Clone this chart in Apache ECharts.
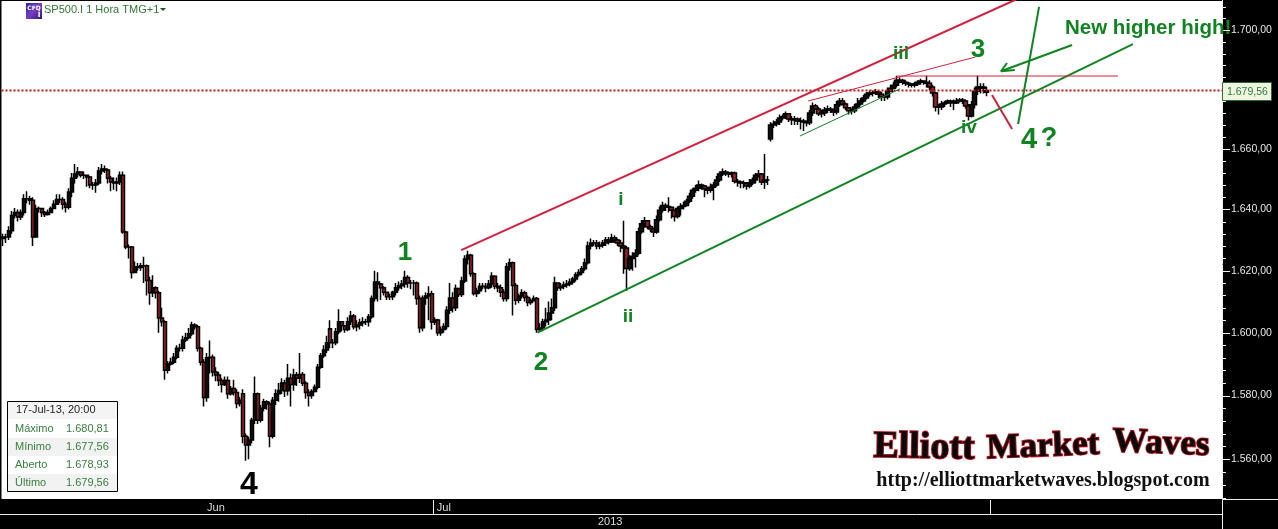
<!DOCTYPE html>
<html>
<head>
<meta charset="utf-8">
<title>SP500.I 1 Hora</title>
<style>
html,body{margin:0;padding:0;background:#000;}
#chart{width:1278px;height:529px;}
</style>
<script src="https://cdn.jsdelivr.net/npm/echarts@6/dist/echarts.min.js"></script>
</head>
<body>
<div id="chart"></div>
<script>
// one line = 10 hourly bars
const opens=[
1630.5,1631,1631,1633,1638,1639,1637.5,1639,1643.5,1643.5,
1643,1631,1640.3,1640.3,1639,1638.3,1639,1640.3,1641.7,1643.3,
1643.3,1641.7,1640.7,1645.7,1650.3,1651.7,1652.3,1651.3,1651.3,1650.7,
1648,1648,1648.7,1652.7,1653.3,1653,1650.3,1649,1648.7,1649,
1651.3,1632.6,1627.7,1627.7,1619.4,1621.3,1621,1621.6,1621.6,1616.8,
1612.9,1614.5,1612.9,1604.7,1603.5,1588,1590,1590.6,1592.2,1595,
1595,1597.7,1598.4,1599.7,1602.5,1601.9,1595,1590.6,1579.4,1592,
1592.2,1587.5,1586.5,1584.8,1583.5,1584.8,1580.6,1582.2,1581,1577.5,
1580.6,1567.2,1564.4,1566,1572.2,1580.6,1572.2,1576,1578,1577.3,
1567.2,1578.5,1580.6,1581.6,1584,1581.5,1585.5,1583.5,1586.5,1585.5,
1586.7,1583.9,1581,1580,1581.3,1582.6,1589,1592.6,1594.5,1601.3,
1596.8,1596.8,1600.3,1603.5,1602.2,1601,1603.5,1605.4,1601.9,1602.5,
1603.2,1603.5,1603.5,1605.1,1611,1616.3,1615.7,1614.5,1613,1611.6,
1611.6,1613,1614.5,1615.1,1615.7,1617.8,1616,1616,1616,1611,
1601.6,1611.2,1611.8,1612.5,1603.4,1604.1,1600,1601,1602,1607.2,
1611.2,1608,1614.2,1612.3,1616.7,1623.8,1625,1619,1612.6,1613.5,
1615,1615,1614.5,1615.7,1618.2,1615,1614.5,1613,1611,1621.3,
1622.6,1615.2,1610.4,1611.8,1612.9,1611.3,1609.7,1610.3,1611,1601,
1601.5,1603.5,1604.1,1606.3,1608,1616,1614.5,1615,1615.4,1615.7,
1616.3,1617.3,1618.7,1619.4,1620.6,1622.6,1628,1629,1629,1628,
1628.3,1629,1630,1629.3,1630.7,1630,1629,1628,1627.4,1620.7,
1624,1624.7,1625.7,1632.7,1635.3,1636.3,1634.3,1633.6,1632.6,1636.6,
1639.7,1641.3,1641,1640.7,1639.7,1637.7,1640.3,1641,1641.3,1642.7,
1644.3,1646.3,1647,1648,1647.7,1646.7,1646.3,1647.3,1648,1649.7,
1651.7,1652.3,1652,1651.7,1652,1649.3,1649,1648.7,1648.7,1647.7,
1648.7,1649.7,1651.3,1651.7,1649,1649.7,1663.3,1668,1668.3,1669,
1670.3,1670.7,1671.7,1670,1669.7,1670,1669.3,1669.3,1669,1668.7,
1672,1674.3,1673.3,1671.7,1672,1673,1673.3,1673,1672.3,1674.7,
1676,1675,1673.7,1672.7,1672.7,1674,1675,1676,1677,1678.3,
1678.7,1678.7,1679,1678.3,1677.3,1677.3,1679.3,1680.3,1681.3,1683,
1683,1682.3,1682,1681.7,1681.3,1681.7,1682.3,1682.7,1682.3,1682,
1680.7,1678.7,1674,1674,1675,1675.3,1676,1675.7,1675.3,1676,
1676.3,1676,1674.3,1671,1674.7,1679.3,1680.7,1680.3,1678.93];
const closes=[
1631,1631,1633,1638,1639,1637.5,1639,1643.5,1643.5,1643,
1631,1640.3,1640.3,1639,1638.3,1639,1640.3,1641.7,1643.3,1643.3,
1641.7,1640.7,1645.7,1650.3,1651.7,1652.3,1651.3,1651.3,1650.7,1648,
1648,1648.7,1652.7,1653.3,1653,1650.3,1649,1648.7,1649,1651.3,
1632.6,1627.7,1627.7,1619.4,1621.3,1621,1621.6,1621.6,1616.8,1612.9,
1614.5,1612.9,1604.7,1603.5,1588,1590,1590.6,1592.2,1595,1595,
1597.7,1598.4,1599.7,1602.5,1601.9,1595,1590.6,1579.4,1592,1592.2,
1587.5,1586.5,1584.8,1583.5,1584.8,1580.6,1582.2,1581,1577.5,1578.5,
1567.2,1564.4,1566,1572.2,1580.6,1572.2,1576,1578,1577.3,1567.2,
1578.5,1580.6,1581.6,1584,1581.5,1585.5,1583.5,1586.5,1585.5,1586.7,
1583.9,1581,1580,1581.3,1582.6,1589,1592.6,1594.5,1596.8,1596.8,
1596.8,1600.3,1603.5,1602.2,1601,1603.5,1605.4,1601.9,1602.5,1603.2,
1603.5,1603.5,1605.1,1611,1616.3,1615.7,1614.5,1613,1611.6,1611.6,
1613,1614.5,1615.1,1615.7,1617.8,1616,1616,1616,1611,1601.6,
1611.2,1611.8,1612.5,1603.4,1604.1,1600,1601,1602,1607.2,1611.2,
1608,1614.2,1612.3,1616.7,1623.8,1625,1619,1612.6,1613.5,1615,
1615,1614.5,1615.7,1618.2,1615,1614.5,1613,1611,1621.3,1622.6,
1615.2,1610.4,1611.8,1612.9,1611.3,1609.7,1610.3,1611,1601,1601.5,
1603.5,1604.1,1606.3,1608,1616,1614.5,1615,1615.4,1615.7,1616.3,
1617.3,1618.7,1619.4,1620.6,1622.6,1628,1629,1629,1628,1628.3,
1629,1630,1629.3,1630.7,1630,1629,1628,1627.4,1620.7,1624,
1624.7,1625.7,1632.7,1635.3,1636.3,1634.3,1633.6,1632.6,1636.6,1639.7,
1641.3,1641,1640.7,1639.7,1637.7,1640.3,1641,1641.3,1642.7,1644.3,
1646.3,1647,1648,1647.7,1646.7,1646.3,1647.3,1648,1649.7,1651.7,
1652.3,1652,1651.7,1652,1649.3,1649,1648.7,1648.7,1647.7,1648.7,
1649.7,1651.3,1651.7,1649,1649.7,1649.7,1668,1668.3,1669,1670.3,
1670.7,1671.7,1670,1669.7,1670,1669.3,1669.3,1669,1668.7,1672,
1674.3,1673.3,1671.7,1672,1673,1673.3,1673,1672.3,1674.7,1676,
1675,1673.7,1672.7,1672.7,1674,1675,1676,1677,1678.3,1678.7,
1678.7,1679,1678.3,1677.3,1677.3,1679.3,1680.3,1681.3,1683,1683,
1682.3,1682,1681.7,1681.3,1681.7,1682.3,1682.7,1682.3,1682,1680.7,
1678.7,1674,1674,1675,1675.3,1676,1675.7,1675.3,1676,1676.3,
1676,1674.3,1671,1674.7,1679.3,1680.7,1680.3,1680.7,1679.56];
const lows=[
1628,1629,1630,1632,1637,1636,1636.5,1638,1642,1641.5,
1628,1638,1639,1637.5,1637.5,1638,1639.5,1640.5,1641.5,1642,
1640,1639,1640,1644,1648.5,1650.5,1650.5,1650,1647.5,1647,
1646.5,1645.5,1648,1651.5,1652,1648.5,1646,1646.5,1646,1648,
1632,1627,1624,1617.5,1620,1620,1620,1616,1612,1609,
1611.5,1611,1600,1602,1585,1587,1589.5,1590,1591.5,1594,
1594,1597,1598,1599,1601,1594,1589.5,1576.5,1578,1587,
1586,1584.5,1583,1581,1583,1579,1580,1580,1576,1576.5,
1565,1559.5,1560,1565,1571,1571,1571.5,1575,1575.5,1563.7,
1566.5,1577,1578,1580.5,1579.5,1580,1576.5,1581.5,1583,1584,
1583,1579,1576.5,1579,1581,1582,1588.5,1592,1593.5,1595,
1595,1596,1599.5,1600.5,1600,1600.5,1602.5,1601,1600.5,1601,
1602,1602.5,1602,1604.5,1610,1610,1610.5,1612,1610.5,1610.5,
1610.5,1612,1613.5,1614,1614.5,1614.5,1614,1612,1609,1600,
1600.5,1609,1604,1601,1602.5,1599,1599,1600,1601,1606,
1606.5,1607,1611.5,1611.5,1616,1622,1618,1612,1611.5,1612.5,
1614,1613,1614,1614.5,1614,1613,1611.5,1610,1610,1620,
1605.5,1609,1609.5,1611,1610,1608.5,1609,1610,1600,1600.2,
1600.5,1602,1602.5,1604,1607,1613.5,1613.5,1614,1614.5,1615,
1615.5,1616.5,1618,1618.5,1620,1622,1627,1628,1627,1627,
1627.5,1628,1628.5,1629,1629,1628,1626,1619,1613.5,1620,
1620,1621,1625,1632,1634,1633.5,1632.5,1631,1632,1636,
1639,1639.5,1639,1637,1636,1637,1638,1640,1641,1642,
1643.5,1645.5,1646,1646.5,1644,1645,1645.5,1643,1647.5,1649,
1651,1651,1650.5,1650.5,1648.5,1647.5,1647,1647,1646.5,1647,
1648,1648.5,1650.5,1648,1646.7,1648,1662.5,1667,1667.5,1668,
1669.5,1670,1669,1668,1668,1668,1666.5,1666,1667.5,1668,
1671,1673,1671,1670.5,1671,1672,1672,1671,1671.5,1674,
1674.5,1673,1671.5,1671.5,1672,1673.5,1674.5,1675.5,1676.5,1677.5,
1677.5,1678,1677,1676,1676,1676.5,1679,1680,1680.5,1682,
1681.5,1681,1680.5,1680.5,1680.5,1681,1681.5,1681.5,1680.5,1679.5,
1677.5,1672.5,1671.5,1673,1674,1675,1674,1673,1675,1675.5,
1675,1673.5,1669.5,1670.5,1673.5,1678,1678.5,1678.5,1677.56];
const highs=[
1632,1632,1634.5,1639.5,1640.5,1640,1640,1645,1646,1644.5,
1644,1641.5,1641,1640,1639.5,1640,1641,1643,1645,1645,
1644,1642.5,1647,1652,1655,1654,1652.5,1652.5,1651.5,1651,
1649,1650,1654,1655,1654.5,1653.5,1651,1650.5,1650.5,1652.5,
1652.5,1633,1628.5,1628,1623,1622.5,1622.5,1624.5,1622,1618,
1618.5,1615,1613.5,1608,1604,1591,1592,1593.5,1596,1596.5,
1599,1600,1601.5,1603.5,1603,1602.5,1595.5,1591.5,1593.5,1597.5,
1593,1589,1587.5,1585.5,1586,1586,1583,1585,1582,1579.5,
1582,1568,1567,1573,1586,1581,1577,1579,1578.5,1578,
1579.5,1582,1584,1585.5,1585,1590,1587,1588.5,1587.5,1593.5,
1587.5,1584.5,1582,1582,1583.5,1590,1593.5,1596,1599,1604,
1598,1601.5,1607.5,1603.5,1602.5,1605,1607,1606,1604,1604.5,
1605,1604.5,1606,1612,1620,1619.5,1616,1615,1613,1612.5,
1613.5,1616,1616.5,1617,1620,1618.5,1617,1617,1616.5,1612,
1612,1613,1615,1613.5,1605,1604.5,1602,1603,1608.5,1616,
1613,1615.5,1614.5,1618,1625,1626.5,1625.5,1619.5,1614.5,1616,
1616,1616,1617,1619.5,1618.5,1616,1615.5,1614,1622.5,1624,
1623,1616,1612.5,1614,1613.5,1612,1611,1612,1611.5,1603,
1604.5,1608,1610,1611,1618,1616,1616,1616.5,1617,1617.5,
1618,1619.5,1620.5,1621.5,1624,1629.5,1630.5,1630,1630,1629.5,
1630,1631,1631,1632,1631.5,1630.5,1630,1636.3,1628,1625,
1626,1627,1634,1636.5,1637.5,1636.5,1635,1634,1638,1641,
1642.5,1642,1644,1641,1640,1641,1642,1642.5,1643.5,1645.5,
1647,1648,1649.5,1648.5,1648,1647.5,1648.5,1649,1651,1652.5,
1653.5,1653,1652.5,1652.5,1652.5,1650,1649.5,1649.5,1649,1650,
1650.5,1652,1653,1652,1658.3,1651,1669,1669.5,1670,1671.5,
1671.5,1672.5,1672,1671,1671,1670.5,1670.5,1670,1669.5,1673,
1675.5,1675,1674,1673,1674,1674.5,1674,1673.5,1676,1677,
1677,1675.5,1674,1673.5,1675,1677,1677,1678,1679,1679.5,
1679.5,1680,1679.5,1679,1678,1680.5,1681.5,1682.5,1684.5,1684,
1683.5,1683,1682.5,1682,1682.5,1683,1683.5,1683,1684.5,1683,
1681.5,1679,1675,1676,1676,1676.5,1676.5,1676.5,1677,1677,
1677,1676.5,1675,1676,1680.5,1684.5,1682,1682,1680.81];

const monthLabels={71:'Jun',147:'Jul'};
const priceLabels=[1560,1580,1600,1620,1640,1660,1700];
const priceTicks=[1560,1580,1600,1620,1640,1660,1680,1700];
const minorTicks=[1548,1552,1556,1564,1568,1572,1576,1584,1588,1592,1596,1604,1608,1612,1616,1624,1628,1632,1636,1644,1648,1652,1656,1664,1668,1672,1676,1684,1688,1692,1696,1704,1708];
const lastPrice=1679.56;

// drawn trend lines: [bar number, price]
const redChannel=[[152.8,1626.7],[338,1710.5]];
const greenChannel=[[178.2,1600],[376.8,1695.2]];
const thinGreen=[[265.8,1664.3],[299.2,1680.1]];
const thinRed=[[268.5,1676],[324.2,1690.8]];
const redFlat=[[298.2,1684.4],[371.8,1684.4]];
const redDrop=[[329.8,1678],[336.5,1666.6]];
const greenSteep=[[345.5,1707.9],[338.5,1668.3]];
const arrowShaft=[[356.5,1694.9],[332.8,1686]];
const arrowHead=[[334.8,1688.8],[332.8,1686],[337.4,1686.4]];
const lastPriceLine=[[-0.5,lastPrice],[406.5,lastPrice]];

const infoRows=[['Máximo','1.680,81'],['Mínimo','1.677,56'],['Aberto','1.678,93'],['Último','1.679,56']];

const RED='#d3203f';
const GREEN='#0f8420';
const categories=Array.from({length:407},(_,i)=>monthLabels[i]||'');
const candles=closes.map((c,i)=>[opens[i],c,lows[i],highs[i]]);

function trend(data,color,width,type){
    return {type:'line',xAxisIndex:1,yAxisIndex:0,data:data,symbol:'none',silent:true,z:5,
        lineStyle:{color:color,width:width,type:type||'solid'}};
}
function txt(x,y,text,font,fill,extra){
    return {type:'text',x:x,y:y,z:50,rotation:extra&&extra.rotation||0,
        style:{text:text,font:font,fill:fill,textAlign:'center',textVerticalAlign:'middle',...(extra&&extra.style)}};
}
function left(x,y,text,font,fill){
    return {type:'text',x:x,y:y,z:50,style:{text:text,font:font,fill:fill,textAlign:'left',textVerticalAlign:'middle'}};
}
function rect(x,y,w,h,fill,stroke){
    return {type:'rect',z:49,shape:{x:x,y:y,width:w,height:h},style:{fill:fill,stroke:stroke||null,lineWidth:1}};
}
function whiteLine(x1,y1,x2,y2){
    return {type:'line',z:48,shape:{x1:x1,y1:y1,x2:x2,y2:y2},style:{stroke:'#eee',lineWidth:1}};
}

const waveFont='bold 26px "Liberation Sans"';
const logoStyle={stroke:'#c4121f',lineWidth:1.8,shadowColor:'rgba(70,70,70,0.75)',shadowBlur:3,shadowOffsetX:2,shadowOffsetY:3};
const urlStyle={shadowColor:'rgba(110,110,70,0.85)',shadowBlur:2,shadowOffsetX:1,shadowOffsetY:2};

const graphics=[
    // header
    {type:'rect',z:49,shape:{x:26,y:3,width:16,height:16},style:{fill:new echarts.graphic.LinearGradient(0,0,1,1,[{offset:0,color:'#2a2a8a'},{offset:0.5,color:'#7a3cc8'},{offset:1,color:'#2a1a70'}])}},
    txt(34,8,'CFD','bold 6px "DejaVu Sans"','#fff'),
    txt(39,15,'i','bold 8px "DejaVu Sans"','#fff'),
    left(44,10,'SP500.I 1 Hora TMG+1','11px "Liberation Sans"','#2f7a34'),
    {type:'polygon',z:50,shape:{points:[[160,8],[166,8],[163,11]]},style:{fill:'#1d4d22'}},
    // wave labels
    txt(405,253,'1',waveFont,GREEN),
    txt(541,363,'2',waveFont,GREEN),
    txt(978,50,'3',waveFont,GREEN),
    txt(249,485,'4','bold 32px "Liberation Sans"','#000'),
    txt(1029,140,'4','bold 29px "Liberation Sans"',GREEN),
    txt(1049,139,'?','bold 27px "Liberation Sans"',GREEN),
    txt(621,200,'i','bold 19px "Liberation Sans"',GREEN),
    txt(628,317,'ii','bold 19px "Liberation Sans"',GREEN),
    txt(901,54,'iii','bold 19px "Liberation Sans"',GREEN),
    txt(969,128,'iv','bold 19px "Liberation Sans"',GREEN),
    left(1065,28,'New higher high!','bold 20.5px "Liberation Sans"',GREEN),
    // info box
    rect(7.5,401.5,110,90,'#fff','#000'),
    rect(8,402,109,17,'#f4f4f4'),
    rect(8,438,109,18,'#f2f2f2'),
    rect(8,474,109,17,'#f2f2f2'),
    left(16,410,'17-Jul-13, 20:00','11px "Liberation Sans"','#222'),
    ...infoRows.flatMap((r,i)=>[
        left(15,429+18*i,r[0],'11px "Liberation Sans"','#38803f'),
        left(66,429+18*i,r[1],'11px "Liberation Sans"','#38803f')
    ]),
    // watermark
    txt(924,448,'Elliott','bold 38px "Liberation Serif"','#0a0a0a',{rotation:-0.02,style:logoStyle}),
    txt(1043,447,'Market','bold 35px "Liberation Serif"','#0a0a0a',{rotation:0.04,style:logoStyle}),
    txt(1161,444,'Waves','bold 35px "Liberation Serif"','#0a0a0a',{rotation:-0.04,style:logoStyle}),
    txt(1043,481,'http://elliottmarketwaves.blogspot.com','bold 20px "Liberation Serif"','#111',{style:urlStyle}),
    // bottom band
    whiteLine(433.5,500,433.5,514),
    whiteLine(990.5,500,990.5,514),
    whiteLine(0,514.5,1222,514.5),
    whiteLine(1222.5,0,1222.5,529),
    whiteLine(1222,499.5,1278,499.5),
    left(598,521.5,'2013','11px "Liberation Sans"','#ddd'),
    // last price tag
    rect(1222.5,82.5,49,18,'#eef6e2','#2f6a2f'),
    left(1227,92,'1.679,56','10.5px "Liberation Sans"','#2f7a34')
];

const chart=echarts.init(document.getElementById('chart'),null,{renderer:'canvas'});
chart.setOption({
    animation:false,
    backgroundColor:'#000',
    grid:{left:1,right:56,top:1,bottom:30,show:true,backgroundColor:'#fff',borderWidth:0},
    xAxis:[
        {type:'category',data:categories,boundaryGap:true,
            axisLine:{show:false},axisTick:{show:false},splitLine:{show:false},
            axisLabel:{interval:0,color:'#ddd',fontFamily:'Liberation Sans',fontSize:11,margin:3,formatter:v=>v}},
        {type:'value',min:-0.5,max:406.5,show:false}
    ],
    yAxis:[
        {type:'log',position:'right',min:1547.6,max:1709.9,logBase:10,splitLine:{show:false},minorTick:{show:false},minorSplitLine:{show:false},
            axisLine:{show:false},axisTick:{show:false},
            axisLabel:{show:true,color:'#e6e6e6',fontFamily:'Liberation Sans',fontSize:10.5,margin:9,padding:[3,0,0,0],customValues:priceLabels,
                formatter:v=>Math.floor(v/1000)+'.'+String(Math.round(v)%1000).padStart(3,'0')+',00'}}
    ],
    series:[
        {type:'candlestick',data:candles,barWidth:4,z:3,silent:true,
            itemStyle:{color:'#111',color0:'#a31d24',borderColor:'#000',borderColor0:'#000',borderWidth:1.5}},
        trend(lastPriceLine,'#c81414',2,[2,2]),
        trend(redChannel,RED,2),
        trend(greenChannel,GREEN,2),
        trend(thinGreen,GREEN,1),
        trend(thinRed,RED,1),
        trend(redFlat,RED,1),
        trend(redDrop,RED,2),
        trend(greenSteep,GREEN,2),
        trend(arrowShaft,GREEN,2),
        trend(arrowHead,GREEN,2)
    ]
});

// axis ticks on the log scale, placed through the axis itself
function tickMarks(values,length){
    return values.map(v=>{
        const y=Math.round(chart.convertToPixel({yAxisIndex:0},v))+0.5;
        return {type:'line',z:47,shape:{x1:1222,y1:y,x2:1223+length,y2:y},style:{stroke:'#f2f2f2',lineWidth:1}};
    });
}
chart.setOption({graphic:[...tickMarks(minorTicks,3),...tickMarks(priceTicks,7),...graphics]});
</script>
</body>
</html>
